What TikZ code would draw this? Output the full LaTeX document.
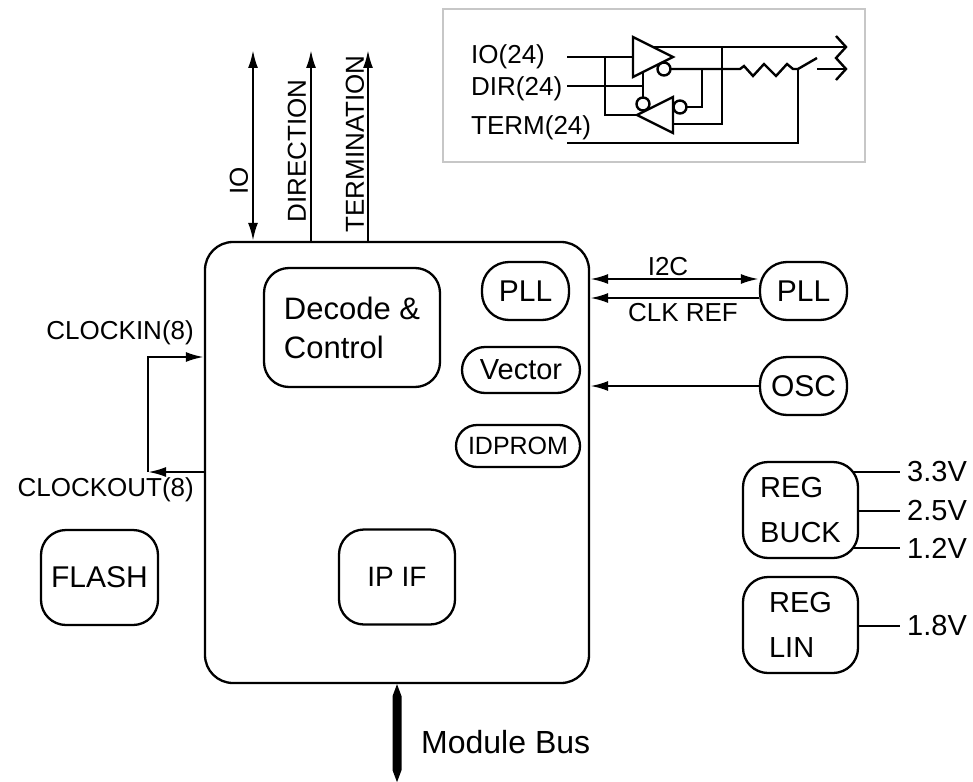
\documentclass[tikz,border=0pt]{standalone}
\usepackage{fontspec}
\setmainfont{Liberation Sans}
\usetikzlibrary{arrows.meta}
\begin{document}
\begin{tikzpicture}[x=1pt,y=-1pt,
  box/.style={draw, line width=2.3pt, rounded corners=25pt, inner sep=0pt},
  conn/.style={line width=2.3pt, -{Latex[length=18pt,width=10pt]}},
  bconn/.style={line width=2.3pt, {Latex[length=18pt,width=10pt]}-{Latex[length=18pt,width=10pt]}},
  wire/.style={line width=2.3pt},
  lbl/.style={font=\fontsize{26}{31}\selectfont, inner sep=0pt},
  volt/.style={font=\fontsize{29}{34}\selectfont, inner sep=0pt, inner xsep=7pt, anchor=west},
  sch/.style={line width=2.4pt, line join=miter}
]
\useasboundingbox (0,0) rectangle (973,781);

% ---------- inset schematic ----------
\draw[line width=2pt, color=black!22] (443,9) rectangle (865,162);
\node[lbl, anchor=west] (lio24) at (471,57) {IO(24)};
\node[lbl, anchor=west] (ldir24) at (471,89) {DIR(24)};
\node[lbl, anchor=west] (lterm24) at (471,128) {TERM(24)};
\begin{scope}[sch]
  \draw (567,57) -- (633,57);
  \draw (633,37) -- (673,57) -- (633,77) -- cycle;
  \draw (653,47) -- (846,47);
  \draw (664,69) circle (6.5);
  \draw (670.5,69) -- (740,69) -- (744,66) -- (753,76) -- (764,64) -- (776,76) -- (787,64) -- (793,69) -- (798,69);
  \draw (673,97) -- (673,133) -- (637,115) -- cycle;
  \draw (643,104) circle (6.5);
  \draw (680,107) circle (6.5);
  \draw (686.5,107) -- (702,107) -- (702,69);
  \draw (722,47) -- (722,124) -- (673,124);
  \draw (605,57) -- (605,115) -- (637,115);
  \draw (567,86) -- (643,86);
  \draw (643,72) -- (643,97.5);
  \draw (567,143) -- (798,143) -- (798,69);
  \draw (798,69) -- (817,58);
  \draw (817,69) -- (846,69);
  \draw (836,36) -- (846,47) -- (836,58) -- (846,69) -- (836,80);
\end{scope}

% ---------- main block ----------
\node[box, rounded corners=28pt, minimum width=384pt, minimum height=441pt] (main) at (397,462.5) {};
\node[box, minimum width=176pt, minimum height=119pt, align=left,
      font=\fontsize{31}{39}\selectfont] (dec) at (352,327.5) {Decode \&\\Control};
\node[box, rounded corners=27pt, minimum width=87pt, minimum height=58pt,
      font=\fontsize{30}{36}\selectfont] (plli) at (525.5,291) {PLL};
\node[box, rounded corners=23pt, minimum width=118pt, minimum height=46pt,
      font=\fontsize{29}{35}\selectfont] (vec) at (521,370) {Vector};
\node[box, rounded corners=21pt, minimum width=124pt, minimum height=42pt,
      font=\fontsize{25}{30}\selectfont] (idp) at (518,446) {IDPROM};
\node[box, minimum width=116pt, minimum height=95pt,
      font=\fontsize{28}{34}\selectfont] (ipif) at (397,577) {IP IF};
\node[box, minimum width=117pt, minimum height=95pt,
      font=\fontsize{30}{36}\selectfont] (flash) at (99.5,577.5) {FLASH};

% ---------- top signals ----------
\coordinate (ioTop) at (253,50);
\coordinate (dirTop) at (311,50);
\coordinate (termTop) at (368,50);
\draw[bconn] (ioTop) -- (ioTop |- main.north);
\draw[conn] (dirTop |- main.north) -- (dirTop);
\draw[conn] (termTop |- main.north) -- (termTop);
\node[lbl, rotate=90] (lio) at (239,181) {IO};
\node[lbl, rotate=90] (ldir) at (297,151) {DIRECTION};
\node[lbl, rotate=90] (lterm) at (355,144) {TERMINATION};

% ---------- clock loop ----------
\coordinate (ckin) at (148,357);
\coordinate (ckout) at (148,472);
\draw[conn] (ckout -| main.west) -- (ckout);
\draw[conn] (ckout) -- (ckin) -- (ckin -| main.west);
\node[lbl, anchor=east] (lckin) at (194,333) {CLOCKIN(8)};
\node[lbl, anchor=east] (lckout) at (194,490) {CLOCKOUT(8)};

% ---------- right side ----------
\node[box, rounded corners=27pt, minimum width=87pt, minimum height=58pt,
      font=\fontsize{30}{36}\selectfont] (pllo) at (803.5,291) {PLL};
\node[box, rounded corners=27pt, minimum width=87pt, minimum height=58pt,
      font=\fontsize{30}{36}\selectfont] (osc) at (803.5,386) {OSC};
\coordinate (i2c) at (700,279);
\coordinate (clk) at (700,298);
\draw[bconn] (i2c -| main.east) -- (i2c -| pllo.west);
\draw[conn] (clk -| pllo.west) -- (clk -| main.east);
\draw[conn] (osc.west) -- (osc.west -| main.east);
\node[lbl] (li2c) at (668,267) {I2C};
\node[lbl] (lclk) at (683,313) {CLK REF};

% ---------- regulators ----------
\node[box, minimum width=115pt, minimum height=96pt, align=left,
      font=\fontsize{29}{45}\selectfont] (buck) at (800.5,510) {REG\\BUCK};
\node[box, minimum width=115pt, minimum height=96pt, align=left,
      font=\fontsize{29}{45}\selectfont] (lin) at (800.5,625) {REG\\LIN};
\node[volt] (v33) at (900,472) {3.3V};
\node[volt] (v25) at (900,511) {2.5V};
\node[volt] (v12) at (900,548) {1.2V};
\node[volt] (v18) at (900,626) {1.8V};
\draw[wire] ([xshift=-5pt]buck.east |- v33.west) -- (v33.west);
\draw[wire] (buck.east |- v25.west) -- (v25.west);
\draw[wire] ([xshift=-5pt]buck.east |- v12.west) -- (v12.west);
\draw[wire] (lin.east |- v18.west) -- (v18.west);

% ---------- module bus ----------
\fill (main.south) -- ++(4.5,12) -- ++(0,74) -- ++(-4.5,12) -- ++(-4.5,-12) -- ++(0,-74) -- cycle;
\node[anchor=west, inner sep=0pt, font=\fontsize{32}{38}\selectfont] (mbus) at (421,742) {Module Bus};
\end{tikzpicture}
\end{document}
